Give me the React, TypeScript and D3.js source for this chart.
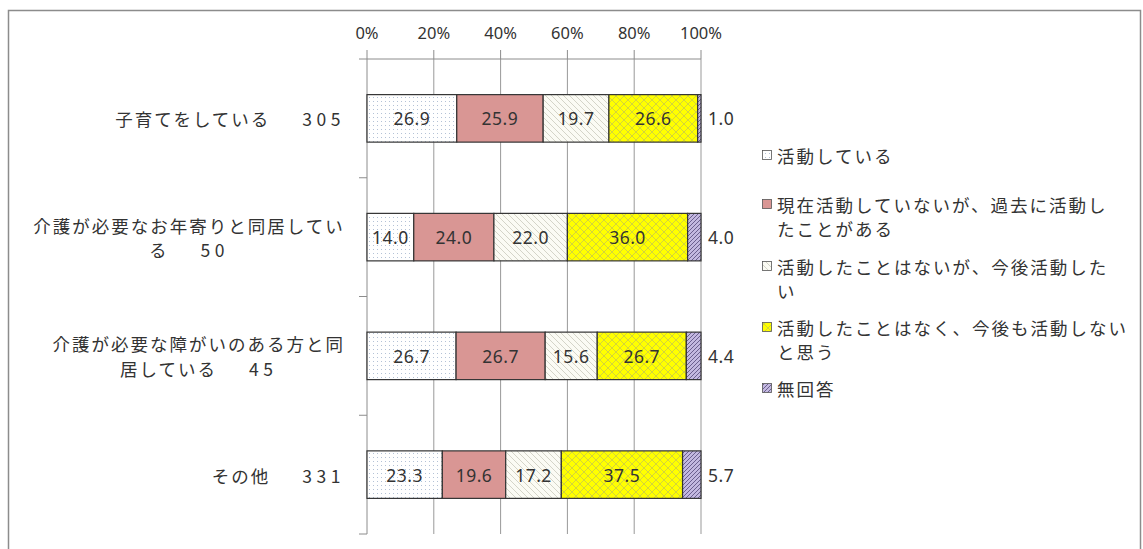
import * as d3 from 'd3'

const categories = ['子育て', 'お年寄り', '障がい', 'その他']
const categoryLines = [
  ['子育てをしている　305'],
  ['介護が必要なお年寄りと同居してい', 'る　50'],
  ['介護が必要な障がいのある方と同', '居している　45'],
  ['その他　331'],
]
const seriesKeys = ['active', 'past', 'wantTo', 'never', 'noAnswer']
const seriesLegend = [
  ['活動している'],
  ['現在活動していないが、過去に活動し', 'たことがある'],
  ['活動したことはないが、今後活動した', 'い'],
  ['活動したことはなく、今後も活動しない', 'と思う'],
  ['無回答'],
]
const active = [26.9, 14.0, 26.7, 23.3]
const past = [25.9, 24.0, 26.7, 19.6]
const wantTo = [19.7, 22.0, 15.6, 17.2]
const never = [26.6, 36.0, 26.7, 37.5]
const noAnswer = [1.0, 4.0, 4.4, 5.7]
const xTicks = [0, 20, 40, 60, 80, 100]

const seriesValues = [active, past, wantTo, never, noAnswer]
const fills = ['url(#p-dots)', '#d99694', 'url(#p-diag)', 'url(#p-cross)', 'url(#p-purple)']

const jpFont = '"Noto Sans CJK JP", "Noto Sans", sans-serif'
const numFont = '"Noto Sans", "Open Sans", sans-serif'
const labelSize = 17.5
const labelSpacing = 2
const countSpacing = 4.5
const ink = '#333'

let ctx: CanvasRenderingContext2D | null = null
function measure(text: string) {
  if (!ctx) ctx = document.createElement('canvas').getContext('2d')
  if (!ctx) return text.length * (labelSize + labelSpacing)
  ctx.font = `${labelSize}px ${jpFont}`
  return ctx.measureText(text).width + text.length * labelSpacing
}

// split "label　123" so the count can be spaced wider, like the original
function LabelLine({ text }: { text: string }) {
  const m = text.match(/^(.*)　(\d+)$/)
  if (!m) return <>{text}</>
  return (
    <>
      <tspan>{m[1]}</tspan>
      <tspan dx={10} letterSpacing={countSpacing}>
        {'　' + m[2]}
      </tspan>
    </>
  )
}

export default function App() {
  const width = 1143
  const height = 549
  const plot = { left: 367, right: 701, top: 59, bottom: 534 }
  const labelRight = 345
  const lineH = 24

  const rows = categories.map((c, i) => {
    const row: Record<string, number | string> = { cat: c }
    seriesKeys.forEach((k, j) => (row[k] = seriesValues[j][i]))
    return row
  })
  const stack = d3
    .stack<Record<string, number | string>>()
    .keys(seriesKeys)
    .value((d, k) => d[k] as number)
    .offset(d3.stackOffsetExpand)
  const layers = stack(rows)

  const x = d3.scaleLinear().domain([0, 1]).range([plot.left, plot.right])
  const y = d3
    .scaleBand()
    .domain(categories)
    .range([plot.top, plot.bottom])
    .paddingInner(0.6)
    .paddingOuter(0.3)
  const step = y.step()
  const legendY = [155, 204, 266, 327, 388]

  return (
    <div style={{ position: 'fixed', left: 0, top: 0 }}>
      <svg width={width} height={height} style={{ display: 'block', background: '#fff' }}>
        <defs>
          <pattern id="p-dots" width="4" height="4" patternUnits="userSpaceOnUse">
            <rect width="4" height="4" fill="#fff" />
            <rect x="1" y="1" width="1" height="1" fill="#b4c2d6" />
          </pattern>
          <pattern id="p-diag" width="6" height="6" patternUnits="userSpaceOnUse">
            <rect width="6" height="6" fill="#fbfbf4" />
            <path d="M0,0 L6,6 M-1,5 L1,7 M5,-1 L7,1" stroke="#d4d4c8" strokeWidth="1" />
          </pattern>
          <pattern id="p-cross" width="8" height="8" patternUnits="userSpaceOnUse">
            <rect width="8" height="8" fill="#ffff00" />
            <path d="M0,0 L8,8 M8,0 L0,8" stroke="#c9c94a" strokeWidth="0.8" />
          </pattern>
          <pattern id="p-purple" width="4" height="4" patternUnits="userSpaceOnUse">
            <rect width="4" height="4" fill="#c3b8e0" />
            <path d="M-1,1 L1,-1 M0,4 L4,0 M3,5 L5,3" stroke="#6b5f8e" strokeWidth="1" />
          </pattern>
        </defs>

        <rect x={8.5} y={10.5} width={1132} height={560} fill="none" stroke="#8c8c8c" strokeWidth={1.5} />

        {/* grid */}
        {xTicks.slice(1).map((t) => (
          <line key={t} x1={x(t / 100)} x2={x(t / 100)} y1={plot.top} y2={plot.bottom} stroke="#999" />
        ))}

        {/* top axis */}
        <line x1={plot.left} x2={plot.right} y1={plot.top} y2={plot.top} stroke="#8c8c8c" />
        {xTicks.map((t) => (
          <g key={t}>
            <line x1={x(t / 100)} x2={x(t / 100)} y1={plot.top - 9} y2={plot.top} stroke="#8c8c8c" />
            <text
              x={x(t / 100)}
              y={39}
              textAnchor="middle"
              fontFamily={numFont}
              fontSize={16.5}
              fill={ink}
            >
              {t}%
            </text>
          </g>
        ))}

        {/* left axis */}
        <line x1={plot.left} x2={plot.left} y1={plot.top} y2={plot.bottom} stroke="#8c8c8c" />
        {d3.range(categories.length + 1).map((i) => (
          <line
            key={i}
            x1={plot.left - 8}
            x2={plot.left}
            y1={plot.top + i * step}
            y2={plot.top + i * step}
            stroke="#8c8c8c"
          />
        ))}

        {/* category labels */}
        {categories.map((c, i) => {
          const lines = categoryLines[i]
          const cy = (y(c) ?? 0) + y.bandwidth() / 2
          const maxW = Math.max(...lines.map(measure))
          const cx = labelRight - maxW / 2
          return (
            <g key={c}>
              {lines.map((ln, j) => (
                <text
                  key={j}
                  x={lines.length === 1 ? labelRight : cx}
                  y={cy + (j - (lines.length - 1) / 2) * lineH}
                  textAnchor={lines.length === 1 ? 'end' : 'middle'}
                  dominantBaseline="central"
                  fontFamily={jpFont}
                  fontSize={labelSize}
                  letterSpacing={labelSpacing}
                  fill={ink}
                >
                  <LabelLine text={ln} />
                </text>
              ))}
            </g>
          )
        })}

        {/* bars */}
        {layers.map((layer, si) => (
          <g key={layer.key}>
            {layer.map((d, ci) => {
              const cat = categories[ci]
              const y0 = y(cat) ?? 0
              const x0 = x(d[0])
              const x1 = x(d[1])
              const v = seriesValues[si][ci]
              const last = si === seriesKeys.length - 1
              return (
                <g key={cat}>
                  <rect
                    x={x0}
                    y={y0}
                    width={x1 - x0}
                    height={y.bandwidth()}
                    fill={fills[si]}
                    stroke="#333"
                    strokeWidth={1.2}
                  />
                  <text
                    x={last ? plot.right + 7 : (x0 + x1) / 2}
                    y={y0 + y.bandwidth() / 2}
                    textAnchor={last ? 'start' : 'middle'}
                    dominantBaseline="central"
                    fontFamily={numFont}
                    fontSize={17.5}
                    letterSpacing={0.5}
                    fill={ink}
                  >
                    {v.toFixed(1)}
                  </text>
                </g>
              )
            })}
          </g>
        ))}

        {/* legend */}
        {seriesLegend.map((lines, i) => (
          <g key={i}>
            <rect
              x={762.5}
              y={legendY[i] - 4.5}
              width={9}
              height={9}
              fill={fills[i]}
              stroke="#555"
              strokeWidth={0.8}
            />
            {lines.map((ln, j) => (
              <text
                key={j}
                x={777}
                y={legendY[i] + j * lineH}
                dominantBaseline="central"
                fontFamily={jpFont}
                fontSize={labelSize}
                letterSpacing={labelSpacing}
                fill={ink}
              >
                {ln}
              </text>
            ))}
          </g>
        ))}
      </svg>
    </div>
  )
}
